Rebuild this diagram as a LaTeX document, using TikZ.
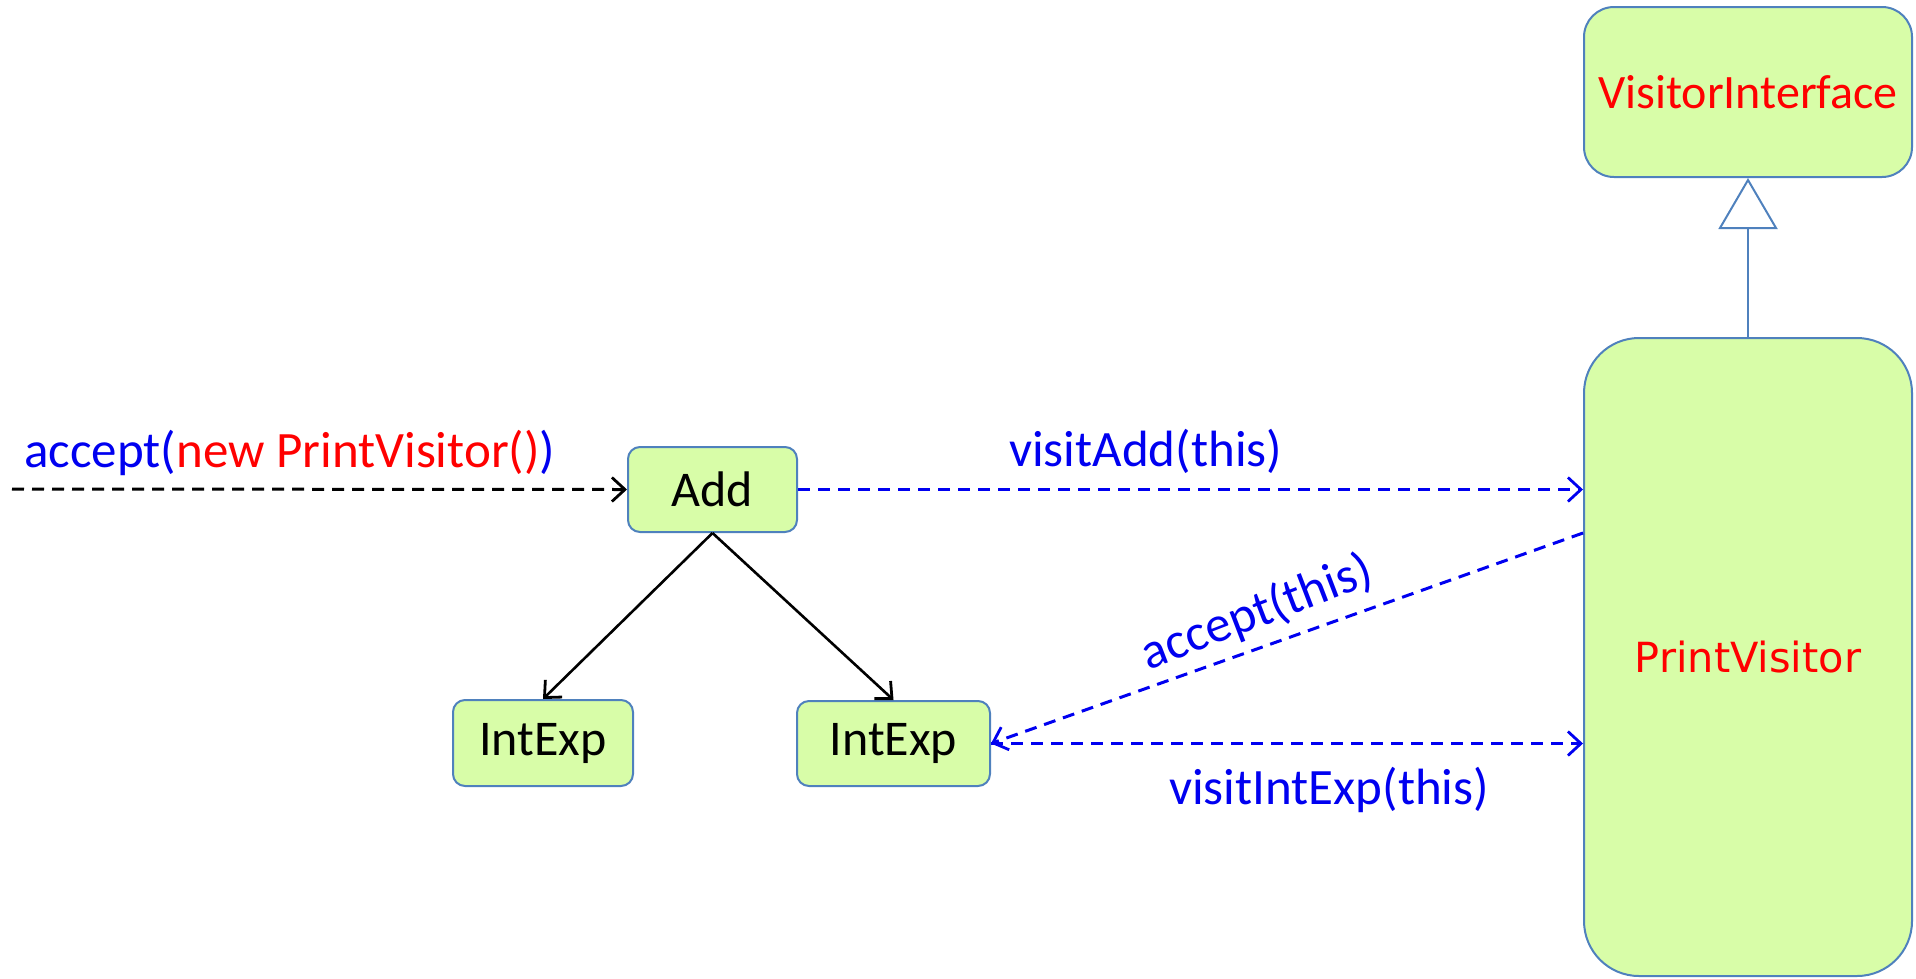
\documentclass[tikz,border=0pt]{standalone}
\usepackage{fontspec}
\setmainfont{Carlito}
\newfontfamily\dvs{DejaVu Sans}
\usetikzlibrary{arrows.meta,calc}
\definecolor{boxfill}{HTML}{D8FDA8}
\definecolor{boxline}{HTML}{4F81BD}
\definecolor{lblue}{HTML}{0000F0}
\definecolor{lred}{HTML}{FF0000}
\tikzset{
  cls/.style={draw=boxline, fill=boxfill, line width=2pt, inner sep=0pt, align=center},
  small/.style={cls, rounded corners=12pt, font=\fontsize{50}{60}\selectfont},
  lbl/.style={inner sep=0pt, text=lblue, font=\fontsize{51}{61}\selectfont},
  barb/.style={-{Straight Barb[length=13pt,width=24pt,line width=2.8pt]}},
  msg/.style={draw=lblue, line width=3pt, dash pattern=on 12pt off 8pt, barb},
  call/.style={draw=black, line width=3pt, dash pattern=on 12pt off 8pt, barb},
  tree/.style={draw=black, line width=2.6pt, barb},
}
\begin{document}
\begin{tikzpicture}[x=1pt,y=-1pt]
\useasboundingbox (0,0) rectangle (1916,978);
\node[small, minimum width=169pt, minimum height=85pt] (add) at (712.5,489.5) {Add};
\node[small, minimum width=180pt, minimum height=86pt] (ie1) at (543,743) {IntExp};
\node[small, minimum width=193pt, minimum height=85pt] (ie2) at (893.5,743.5) {IntExp};
\node[cls, rounded corners=30pt, minimum width=328pt, minimum height=170pt, text=lred, font=\fontsize{48}{58}\selectfont] (vi) at (1748,92) {VisitorInterface};
\node[cls, rounded corners=55pt, minimum width=328pt, minimum height=638pt, text=lred, font=\dvs\fontsize{41.5}{50}\selectfont] (pv) at (1748,657) {PrintVisitor};
\coordinate (start) at (12,489);
% generalization
\draw[draw=boxline, line width=2pt, -{Triangle[open, length=51pt, width=59pt, line width=2pt, fill=white]}] (pv.north) -- (vi.south);
% connectors
\draw[call] (start) -- (add.west);
\draw[msg] (add.east) -- (add.east -| pv.west);
\draw[tree] (add.south) -- (ie1.north);
\draw[tree] (add.south) -- (ie2.north);
\draw[msg] (pv.west |- add.south) -- (ie2.east);
\draw[msg] (ie2.east) -- (ie2.east -| pv.west);
% labels
\node[lbl, anchor=base west] (l0) at (24,467) {accept(\textcolor{lred}{new PrintVisitor()})};
\node[lbl, anchor=base west] (l1) at (1009,466) {visitAdd(this)};
\node[lbl, rotate=21] (l2) at (1257,613) {accept(this)};
\node[lbl, anchor=base west] (l3) at (1169,804) {visitIntExp(this)};
\end{tikzpicture}
\end{document}
